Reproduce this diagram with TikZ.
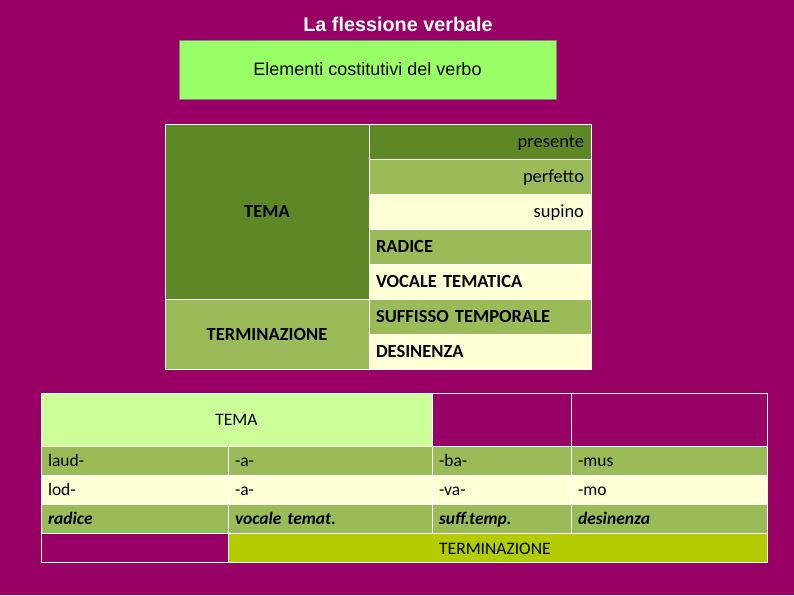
\documentclass[tikz,border=0pt]{standalone}
\usepackage{fontspec}
\setmainfont{Carlito}
\newfontfamily\arialfont{Liberation Sans}
\usetikzlibrary{positioning}

\definecolor{plum}{HTML}{990066}
\definecolor{limebox}{HTML}{99FF66}
\definecolor{olivedark}{HTML}{5E8726}
\definecolor{olivelight}{HTML}{9BBB59}
\definecolor{creamrow}{HTML}{FFFFD5}
\definecolor{palegreen}{HTML}{CCFF99}
\definecolor{termgreen}{HTML}{B3CC00}

\begin{document}
\begin{tikzpicture}[x=1pt, y=-1pt, node distance=0pt,
    cell/.style={draw=white, line width=0.8pt, outer sep=0pt, inner xsep=7pt, inner ysep=0pt,
        text height=14pt, text depth=2pt},
    midcell/.style={cell, minimum height=35pt, text width=208pt, font=\fontsize{18.5}{21}\selectfont},
    botcell/.style={cell, minimum height=29pt, font=\fontsize{17.5}{20}\selectfont, align=left}]
    \fill[plum] (0,0) rectangle (794,595);
    \useasboundingbox (0,0) rectangle (794,595);

    % Title
    \node[text=white, font=\arialfont\bfseries\fontsize{19.8}{23}\selectfont] (title) at (398,24) {La flessione verbale};
    \node[draw=gray, fill=limebox, minimum width=377pt, minimum height=59pt,
        font=\arialfont\fontsize{18}{21}\selectfont] (elementi) at (367.5,69.5) {Elementi costitutivi del verbo};

    % Middle table
    \node[cell, fill=olivedark, minimum width=204pt, minimum height=175pt, anchor=north west,
        font=\fontsize{18.5}{21}\selectfont\bfseries] (tema) at (165,124) {TEMA};
    \node[cell, fill=olivelight, minimum width=204pt, minimum height=70pt, below=of tema,
        font=\fontsize{18.5}{21}\selectfont\bfseries] (termin) {TERMINAZIONE};
    \node[midcell, fill=olivedark, align=right, anchor=north west] (presente) at (tema.north east) {presente};
    \node[midcell, fill=olivelight, align=right, below=of presente] (perfetto) {perfetto};
    \node[midcell, fill=creamrow, align=right, below=of perfetto] (supino) {supino};
    \node[midcell, fill=olivelight, align=left, below=of supino] (radice) {\bfseries RADICE};
    \node[midcell, fill=creamrow, align=left, below=of radice] (vocale) {\bfseries VOCALE TEMATICA};
    \node[midcell, fill=olivelight, align=left, below=of vocale] (suffisso) {\bfseries SUFFISSO TEMPORALE};
    \node[midcell, fill=creamrow, align=left, below=of suffisso] (desinenza) {\bfseries DESINENZA};

    % Bottom table, head row
    \node[botcell, fill=palegreen, minimum width=391pt, minimum height=53pt, anchor=north west,
        align=center] (temab) at (41,393) {TEMA};
    \node[botcell, minimum width=139pt, minimum height=53pt, right=of temab] (blanka) {};
    \node[botcell, minimum width=196pt, minimum height=53pt, right=of blanka] (blankb) {};

    % laud-
    \node[botcell, fill=olivelight, text width=173pt, anchor=north west] (laud) at (temab.south west) {laud-};
    \node[botcell, fill=olivelight, text width=190pt, right=of laud] (lauda) {-a-};
    \node[botcell, fill=olivelight, text width=125pt, right=of lauda] (laudba) {-ba-};
    \node[botcell, fill=olivelight, text width=182pt, right=of laudba] (laudmus) {-mus};

    % lod-
    \node[botcell, fill=creamrow, text width=173pt, below=of laud] (lod) {lod-};
    \node[botcell, fill=creamrow, text width=190pt, right=of lod] (loda) {-a-};
    \node[botcell, fill=creamrow, text width=125pt, right=of loda] (lodva) {-va-};
    \node[botcell, fill=creamrow, text width=182pt, right=of lodva] (lodmo) {-mo};

    % parts
    \node[botcell, fill=olivelight, text width=173pt, below=of lod] (radb) {\bfseries\itshape radice};
    \node[botcell, fill=olivelight, text width=190pt, right=of radb] (vocb) {\bfseries\itshape vocale temat.};
    \node[botcell, fill=olivelight, text width=125pt, right=of vocb] (suffb) {\bfseries\itshape suff.temp.};
    \node[botcell, fill=olivelight, text width=182pt, right=of suffb] (desb) {\bfseries\itshape desinenza};

    % Terminazione row
    \node[botcell, minimum width=187pt, below=of radb] (emptyb) {};
    \node[botcell, fill=termgreen, minimum width=539pt, right=of emptyb] (terminb) {};
    \node[anchor=west, inner sep=0pt, xshift=7pt, font=\fontsize{17.5}{20}\selectfont] (termlabel)
        at ([yshift=-1pt]suffb.south west |- terminb) {TERMINAZIONE};
\end{tikzpicture}
\end{document}
